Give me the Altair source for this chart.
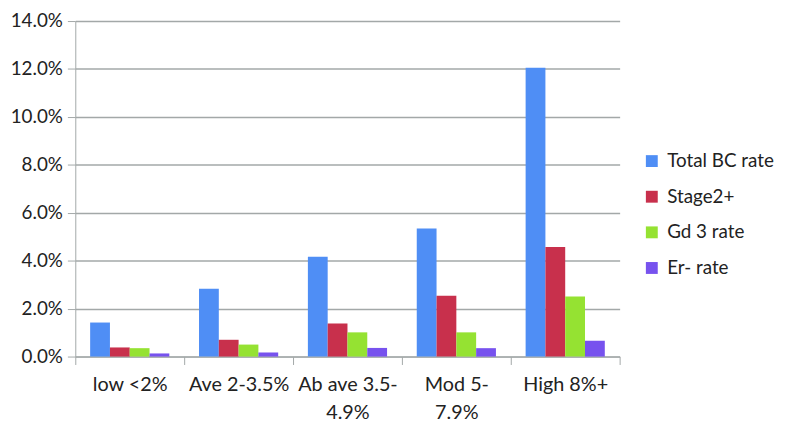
import altair as alt
import pandas as pd

categories = ["low <2%", "Ave 2-3.5%", "Ab ave 3.5-4.9%", "Mod 5-7.9%", "High 8%+"]
series = ["Total BC rate", "Stage2+", "Gd 3 rate", "Er- rate"]
total_bc = [1.42, 2.83, 4.17, 5.34, 12.05]
stage2 = [0.38, 0.70, 1.38, 2.54, 4.57]
gd3 = [0.35, 0.50, 1.01, 1.01, 2.51]
er_neg = [0.13, 0.17, 0.36, 0.35, 0.66]
colors = ["#4F8EF5", "#C8304C", "#95E232", "#7752EE"]

rows = []
for s, vals in zip(series, [total_bc, stage2, gd3, er_neg]):
    for c, v in zip(categories, vals):
        rows.append({"category": c, "series": s, "value": v / 100})
df = pd.DataFrame(rows)

label_expr = ("datum.value == 'Ab ave 3.5-4.9%' ? ['Ab ave 3.5-', '4.9%'] : "
              "datum.value == 'Mod 5-7.9%' ? ['Mod 5-', '7.9%'] : datum.value")

font = "Lato"
grid_color = "#A3A8A8"

chart = alt.Chart(df).mark_bar().encode(
    x=alt.X("category:N", sort=categories, title=None,
            scale=alt.Scale(paddingInner=0, paddingOuter=0),
            axis=alt.Axis(labelAngle=0, labelExpr=label_expr, tickBand="extent",
                          labelFontSize=20, labelFont=font, labelColor="#222",
                          labelPadding=10, labelLineHeight=29,
                          domainColor=grid_color, tickColor=grid_color, tickSize=8,
                          grid=False)),
    xOffset=alt.XOffset("series:N", sort=series,
                        scale=alt.Scale(paddingInner=0, paddingOuter=0.75)),
    y=alt.Y("value:Q", title=None,
            scale=alt.Scale(domain=[0, 0.14]),
            axis=alt.Axis(format=".1%", values=[i / 100 for i in range(0, 15, 2)],
                          labelFontSize=19, labelFont=font, labelColor="#222",
                          labelPadding=5,
                          gridColor=grid_color, gridWidth=1.5,
                          domainColor=grid_color, tickColor=grid_color, tickSize=8)),
    color=alt.Color("series:N", sort=series,
                    scale=alt.Scale(domain=series, range=colors),
                    legend=alt.Legend(title=None, orient="none", legendX=573, legendY=132,
                                      symbolType="square", symbolSize=144,
                                      symbolStrokeWidth=0,
                                      labelFontSize=19, labelFont=font, labelColor="#222",
                                      rowPadding=16, labelOffset=6)),
).properties(
    width=550, height=339,
    autosize=alt.AutoSizeParams(type="none"),
    padding={"left": 68, "top": 11, "right": 160, "bottom": 70},
).configure_view(stroke=None)

chart.save("out.html", embed_options={"renderer": "svg", "actions": False})
